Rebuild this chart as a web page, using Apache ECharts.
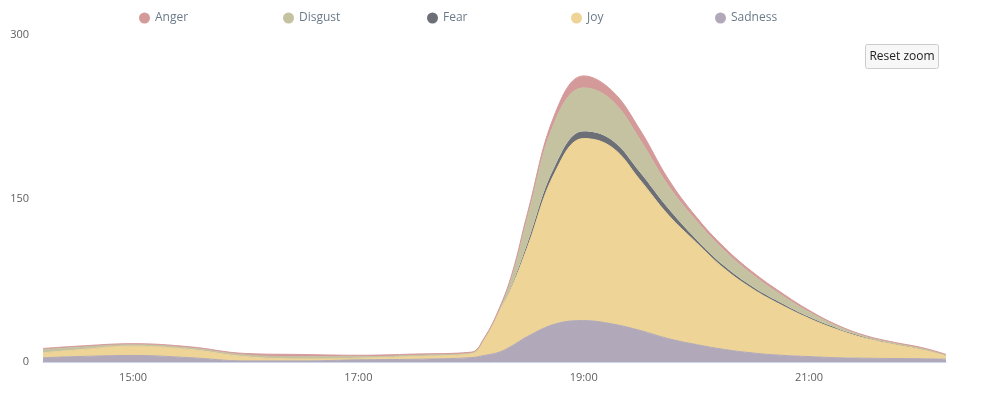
<!DOCTYPE html>
<html>
<head>
<meta charset="utf-8">
<title>Emotions over time</title>
<script src="https://cdn.jsdelivr.net/npm/echarts@6.0.0/dist/echarts.min.js"></script>
<style>
  html, body { margin: 0; padding: 0; background: #fff; }
  #chart { width: 990px; height: 397px; }
</style>
</head>
<body>
<div id="chart"></div>
<script>
// sample times (HH:MM)
const times = ['14:12', '14:30', '15:00', '15:30', '16:00', '16:30', '17:00', '17:30', '18:00',
  '18:07', '18:15', '18:22', '18:30', '18:45', '19:00', '19:15', '19:30', '19:45', '20:00',
  '20:15', '20:30', '20:45', '21:00', '21:15', '21:30', '21:45', '22:00', '22:13'];

const sadness = [3.9, 5, 6, 4, 1, 1, 2, 2.5, 4, 6, 9, 15, 23.4, 35, 38, 35, 29, 21.5, 16, 11.5,
  8.3, 6.2, 5, 3.9, 3.5, 3.2, 3, 2.6];
const joy = [4.5, 6, 8.5, 7.5, 3.8, 1.8, 1.5, 2.5, 3.5, 14.5, 37, 55, 81.6, 140, 167, 162, 138,
  113.5, 93.5, 74, 58.7, 46.3, 35, 25.9, 18.3, 13, 8.4, 3.2];
const fear = [0.3, 0.3, 0.3, 0.3, 0.3, 0.3, 0.3, 0.3, 0.3, 0.4, 0.8, 2, 4, 6, 6.7, 6.7, 7, 6, 3,
  2.5, 2, 1.8, 1.4, 1.2, 1, 0.8, 0.7, 0.4];
const disgust = [2.7, 2.2, 1.2, 1.2, 1.4, 1.8, 1.2, 1, 0.7, 0.6, 1.4, 8, 23, 41, 39.8, 36.3, 30,
  21, 17, 14, 11, 7.5, 4.5, 2, 0.9, 0.7, 0.7, 0.4];
const anger = [1, 1, 0.8, 1, 1.3, 2, 1.2, 1, 0.5, 0.5, 0.8, 2, 4, 7, 11, 9, 9, 6, 3.5, 3, 2.5,
  2.2, 1.6, 1, 0.6, 0.5, 0.5, 0.4];

// hours that get a label on the x axis
const xTickHours = [15, 17, 19, 21];
const legendNames = ['Anger', 'Disgust', 'Fear', 'Joy', 'Sadness'];

const colors = {
  Anger: '#d49a99',
  Disgust: '#c5c2a2',
  Fear: '#6c7076',
  Joy: '#eed496',
  Sadness: '#b1a9ba'
};

const toTime = (t) => {
  const [h, m] = t.split(':').map(Number);
  return new Date(2024, 0, 1, h, m).getTime();
};

const HOUR = 3600 * 1000;

const chart = echarts.init(document.getElementById('chart'));
const fontFamily = '"Open Sans", "DejaVu Sans", sans-serif';

const makeSeries = (name, values, lineWidth) => ({
  name: name,
  type: 'line',
  stack: 'total',
  smooth: 0.4,
  showSymbol: false,
  lineStyle: { width: lineWidth, color: colors[name] },
  itemStyle: { color: colors[name] },
  areaStyle: { color: colors[name], opacity: 1 },
  emphasis: { disabled: true },
  data: times.map((t, i) => [toTime(t), values[i]])
});

const legendX = [134, 278, 422, 566, 710];

const option = {
  animation: false,
  textStyle: { fontFamily: fontFamily },
  legend: legendNames.map((name, i) => ({
    data: [name],
    left: legendX[i],
    top: 7,
    icon: 'circle',
    itemWidth: 11,
    itemHeight: 11,
    itemGap: 0,
    textStyle: { color: '#6b7a89', fontSize: 12, fontFamily: fontFamily }
  })),
  grid: { left: 43, right: 44, top: 35, bottom: 35 },
  xAxis: {
    type: 'time',
    min: toTime(times[0]),
    max: toTime(times[times.length - 1]),
    minInterval: HOUR,
    maxInterval: HOUR,
    splitNumber: 8,
    axisLine: { show: true, lineStyle: { color: '#ccd6eb', width: 1 } },
    axisTick: { show: false },
    splitLine: { show: false },
    axisLabel: {
      formatter: (v) => {
        const d = new Date(v);
        if (d.getMinutes() !== 0 || xTickHours.indexOf(d.getHours()) < 0) return '';
        return d.getHours() + ':00';
      },
      color: '#606060',
      fontSize: 11,
      margin: 10,
      hideOverlap: false,
      fontFamily: fontFamily
    }
  },
  yAxis: {
    type: 'value',
    min: 0,
    max: 300,
    interval: 150,
    axisLine: { show: false },
    axisTick: { show: false },
    splitLine: { show: false },
    axisLabel: { color: '#606060', fontSize: 11, margin: 14, fontFamily: fontFamily }
  },
  graphic: [{
    type: 'group',
    left: 865,
    top: 44,
    children: [
      {
        type: 'rect',
        shape: { x: 0, y: 0, width: 73, height: 24, r: 2 },
        style: { fill: '#f7f7f7', stroke: '#cccccc', lineWidth: 1 }
      },
      {
        type: 'text',
        x: 36.5,
        y: 12,
        style: {
          text: 'Reset zoom',
          fill: '#222222',
          font: '12px ' + fontFamily,
          align: 'center',
          verticalAlign: 'middle'
        }
      }
    ]
  }],
  series: [
    makeSeries('Sadness', sadness, 1),
    makeSeries('Joy', joy, 1),
    makeSeries('Fear', fear, 0),
    makeSeries('Disgust', disgust, 1),
    makeSeries('Anger', anger, 1)
  ]
};

chart.setOption(option);
</script>
</body>
</html>
